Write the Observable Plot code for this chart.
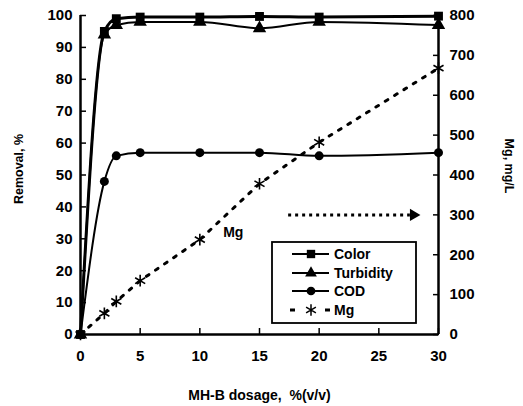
<!DOCTYPE html>
<html><head><meta charset="utf-8">
<script src="https://cdn.jsdelivr.net/npm/d3@7"></script>
<script src="https://cdn.jsdelivr.net/npm/@observablehq/plot@0.6"></script>
<style>
body{margin:0;background:#fff;}
#chart{position:relative;width:523px;height:406px;}
</style></head><body><div id="chart"></div>
<script>
const dosage = [0, 2, 3, 5, 10, 15, 20, 30];
const colorRemoval = [0, 95, 99, 99.5, 99.5, 99.7, 99.5, 99.8];
const turbidityRemoval = [0, 94, 97, 98, 98, 96, 98, 97];
const codRemoval = [0, 48, 56, 57, 57, 57, 56, 57];
const mgConc = [0, 53, 83, 135, 238, 378, 482, 668];
const leftTicks = [0, 10, 20, 30, 40, 50, 60, 70, 80, 90, 100];
const rightTicks = [0, 100, 200, 300, 400, 500, 600, 700, 800];
const xTicks = [0, 5, 10, 15, 20, 25, 30];
const seriesNames = ["Color", "Turbidity", "COD", "Mg"];
const rightMax = 800, leftMax = 100;
const k = leftMax / rightMax;

const rows = dosage.map((d, i) => ({dosage: d, color: colorRemoval[i], turbidity: turbidityRemoval[i], cod: codRemoval[i], mg: mgConc[i] * k}));

const FONT = '"Liberation Sans", Arial, sans-serif';
const arrowY = 300 * k;
const plot = Plot.plot({
  width: 523, height: 406,
  marginLeft: 80, marginRight: 85, marginTop: 15, marginBottom: 72,
  style: {fontFamily: FONT, fontWeight: "bold", fontSize: "15px", color: "black", background: "white"},
  x: {domain: [0, 30]},
  y: {domain: [0, leftMax]},
  marks: [
    Plot.axisY({anchor: "left", ticks: leftTicks, tickSize: -6, tickPadding: 14, strokeWidth: 1.5, label: null}),
    Plot.axisY({anchor: "right", ticks: rightTicks.map(v => v * k), tickFormat: d => Math.round(d / k), tickSize: -6, tickPadding: 17, strokeWidth: 1.5, label: null}),
    Plot.axisX({ticks: xTicks, tickSize: -6, tickPadding: 22, strokeWidth: 1.5, label: null}),
    Plot.ruleX([0], {stroke: "black", strokeWidth: 2.5}),
    Plot.ruleX([30], {stroke: "black", strokeWidth: 2.5}),
    Plot.ruleY([0], {stroke: "black", strokeWidth: 2.5}),
    Plot.line(rows, {x: "dosage", y: "mg", stroke: "black", strokeWidth: 3, strokeDasharray: "3,8"}),
    Plot.dot(rows, {x: "dosage", y: "mg", symbol: "asterisk", stroke: "black", strokeWidth: 1.6, r: 5.5}),
    Plot.line(rows, {x: "dosage", y: "cod", stroke: "black", strokeWidth: 2, curve: "monotone-x"}),
    Plot.dot(rows, {x: "dosage", y: "cod", symbol: "circle", fill: "black", r: 4.5}),
    Plot.line(rows, {x: "dosage", y: "turbidity", stroke: "black", strokeWidth: 2, curve: "monotone-x"}),
    Plot.dot(rows, {x: "dosage", y: "turbidity", symbol: "triangle", fill: "black", r: 5}),
    Plot.line(rows, {x: "dosage", y: "color", stroke: "black", strokeWidth: 3, curve: "monotone-x"}),
    Plot.dot(rows, {x: "dosage", y: "color", symbol: "square", fill: "black", r: 5}),
    Plot.link([{x1: 17.4, x2: 27.6, y: arrowY}], {x1: "x1", x2: "x2", y1: "y", y2: "y", stroke: "black", strokeWidth: 3, strokeDasharray: "3,4"}),
    Plot.dot([{x: 27.9, y: arrowY}], {x: "x", y: "y", symbol: "triangle", rotate: 90, fill: "black", r: 4.5}),
    Plot.text(["Mg"], {x: 12.8, y: 32, text: d => d, fontSize: 14, fontWeight: "bold", fill: "black"}),
    Plot.text(["Removal, %"], {frameAnchor: "left", textAnchor: "middle", dx: -62, dy: -6, rotate: -90, text: d => d, fontSize: 12.5, fill: "black"}),
    Plot.text(["Mg, mg/L"], {frameAnchor: "right", textAnchor: "middle", dx: 70, dy: -9, rotate: 90, text: d => d, fontSize: 12.5, fill: "black"}),
    Plot.text(["MH-B dosage,  %(v/v)"], {frameAnchor: "bottom", dy: 65, text: d => d, fontSize: 14, fill: "black"})
  ]
});
document.getElementById("chart").appendChild(plot);

// legend
const svg = d3.select(plot);
const lg = svg.append("g").attr("font-family", FONT).attr("font-weight", "bold").attr("font-size", 14).attr("text-anchor", "start");
lg.append("rect").attr("x", 272).attr("y", 242).attr("width", 144).attr("height", 81)
  .attr("fill", "white").attr("stroke", "black").attr("stroke-width", 1.8);
const rowsY = [254, 273, 291, 310];
const syms = [d3.symbolSquare, d3.symbolTriangle, d3.symbolCircle, d3.symbolAsterisk];
const sizes = [70, 60, 60, 90];
seriesNames.forEach((name, i) => {
  const y = rowsY[i];
  if (i < 3) {
    lg.append("line").attr("x1", 292).attr("x2", 329).attr("y1", y).attr("y2", y).attr("stroke", "black").attr("stroke-width", 2);
  } else {
    lg.append("line").attr("x1", 290).attr("x2", 295).attr("y1", y).attr("y2", y).attr("stroke", "black").attr("stroke-width", 3);
    lg.append("line").attr("x1", 325).attr("x2", 330).attr("y1", y).attr("y2", y).attr("stroke", "black").attr("stroke-width", 3);
  }
  const p = lg.append("path").attr("transform", `translate(311,${y})`).attr("d", d3.symbol(syms[i], sizes[i])());
  if (i < 3) p.attr("fill", "black"); else p.attr("fill", "none").attr("stroke", "black").attr("stroke-width", 1.5);
  lg.append("text").attr("x", 334).attr("y", y).attr("dy", "0.36em").attr("fill", "black").attr("text-anchor", "start").text(name);
});
</script>
</body></html>
